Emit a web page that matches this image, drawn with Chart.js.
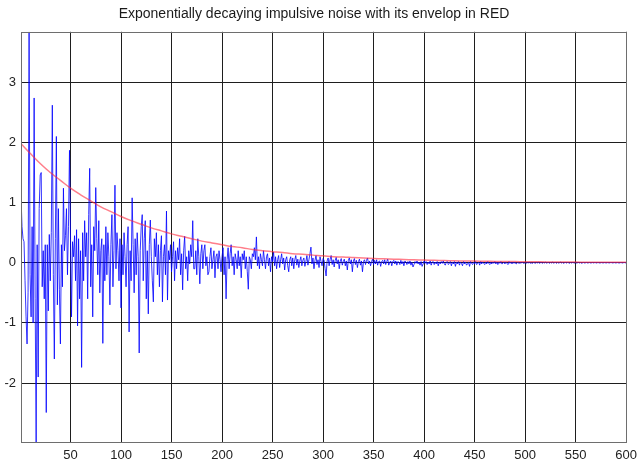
<!DOCTYPE html>
<html>
<head>
<meta charset="utf-8">
<script src="https://cdn.jsdelivr.net/npm/chart.js@4.4.1/dist/chart.umd.min.js"></script>
<style>
  html, body { margin: 0; padding: 0; background: #fff; }
  #wrap { width: 643px; height: 463px; }
</style>
</head>
<body>
<div id="wrap"><canvas id="noiseChart" width="643" height="463"></canvas></div>
<script>
// Impulsive noise, one sample per x (x = 1 .. 600)
const noise = [
  1.12, 0.6, 0.4, 0.35, -0.3, -0.9, -1.35, -0.5, 3.84, -0.2,
  -0.9, 0.6, -1.0, 2.74, -0.6, -2.98, 0.3, -1.9, 0.9, 1.46,
  1.5, -0.4, 0.2, -0.6, 0.3, -2.49, 0.3, -0.8, 0.47, -0.3,
  0.5, 2.62, -0.2, -1.6, 0.4, 2.1, -0.7, 0.9, -0.45, -1.35,
  0.3, -0.4, 1.24, 0.2, 0.45, 0.9, -0.2, 0.6, 1.87, 0.4,
  -0.9, 0.35, 0.1, 0.45, -0.3, 0.55, -1.05, 0.4, -0.6, 0.2,
  -1.74, 0.5, -0.3, 0.7, 0.1, 0.5, -0.6, 0.8, 1.57, -0.4,
  0.3, -0.9, 0.6, 0.2, 1.25, 0.4, -0.2, 0.7, -0.5, 0.2,
  0.4, -1.34, 0.3, -0.3, 0.6, -0.2, 0.5, 0.1, -0.7, 0.3,
  0.8, -0.4, 0.2, 1.29, -0.1, 0.5, 0.2, -0.3, 0.4, -0.75,
  0.3, -0.2, 0.5, 0.1, -0.4, 0.3, 0.6, -1.15, 0.2, -0.3,
  1.08, 0.3, -0.5, 0.4, -0.2, 0.5, 0.1, -1.5, 0.2, 0.6,
  0.8, -0.3, 0.4, 0.7, -0.6, 0.2, -0.85, 0.3, 0.71, 0.1,
  -0.3, -0.65, 0.4, 0.1, 0.5, -0.2, 0.3, -0.4, 0.2, 0.45,
  -0.65, 0.1, 0.3, -0.2, 0.86, -0.62, 0.2, 0.05, 0.3, -0.15,
  0.1, 0.35, -0.3, 0.2, -0.1, 0.25, 0.05, 0.4, -0.2, 0.15,
  -0.45, 0.2, 0.44, -0.1, 0.1, -0.3, 0.2, -0.02, 0.3, 0.1,
  0.7, -0.1, -0.1, 0.2, -0.2, 0.4, 0.1, -0.35, 0.15, 0.3,
  -0.1, 0.2, 0.3, -0.05, 0.1, -0.2, -0.15, 0.1, 0.25, -0.1,
  0.05, 0.2, -0.25, 0.1, 0.15, -0.1, 0.2, 0.05, -0.15, 0.1,
  0.25, -0.2, 0.1, -0.6, 0.05, 0.25, -0.1, 0.15, 0.3, -0.05,
  0.1, -0.2, 0.15, 0.05, -0.1, 0.2, -0.05, 0.1, -0.25, 0.15,
  0.05, 0.2, -0.1, 0.1, -0.15, -0.44, 0.1, 0.05, -0.1, 0.15,
  0.1, 0.25, 0.05, 0.43, -0.05, 0.1, -0.1, 0.15, 0.05, -0.05,
  0.2, 0.05, -0.1, 0.1, 0.15, -0.05, 0.08, -0.15, 0.1, 0.02,
  0.18, -0.05, 0.1, -0.1, 0.05, 0.12, -0.08, 0.05, 0.15, -0.02,
  0.08, -0.12, 0.05, 0.1, -0.05, -0.15, 0.05, 0.1, -0.05, 0.08,
  -0.1, 0.05, 0.12, -0.04, 0.06, -0.08, 0.03, 0.1, -0.05, 0.04,
  0.08, -0.06, 0.02, 0.12, -0.04, 0.05, 0.15, 0.26, -0.02, 0.08,
  -0.1, 0.04, 0.12, -0.03, 0.05, -0.08, 0.1, 0.02, -0.05, 0.07,
  0.04, -0.1, -0.22, 0.03, 0.08, -0.05, 0.06, 0.12, -0.03, 0.05,
  -0.07, 0.04, 0.09, -0.02, 0.05, -0.1, 0.03, 0.07, -0.04, 0.02,
  0.06, -0.05, 0.03, -0.12, 0.04, 0.08, -0.02, 0.05, -0.15, 0.03,
  0.07, -0.03, 0.04, -0.08, 0.02, 0.06, -0.04, 0.03, -0.15, 0.02,
  0.05, -0.03, 0.04, 0.08, -0.02, 0.03, -0.05, 0.02, 0.06, -0.03,
  0.04, -0.02, 0.05, -0.04, 0.02, 0.03, -0.06, 0.02, 0.04, -0.02,
  0.05, -0.03, 0.02, 0.06, -0.04, 0.01, 0.03, -0.05, 0.02, 0.04,
  -0.02, 0.03, -0.04, 0.02, 0.01, -0.03, 0.04, -0.02, 0.02, -0.05,
  0.03, 0.01, -0.03, 0.02, -0.02, 0.03, -0.04, 0.01, -0.07, -0.03,
  0.02, -0.01, 0.03, -0.02, 0.01, -0.04, 0.02, -0.06, -0.02, 0.03,
  -0.01, 0.02, -0.03, 0.01, -0.02, 0.03, -0.04, 0.01, 0.02, -0.03,
  0.01, -0.02, 0.02, -0.05, 0.01, -0.02, 0.02, -0.01, 0.03, -0.02,
  -0.04, 0.01, 0.02, -0.03, -0.01, 0.02, -0.05, 0.01, -0.02, 0.02,
  -0.06, 0.01, -0.02, 0.02, -0.04, 0.01, -0.01, -0.05, 0.02, -0.02,
  0.01, -0.04, -0.02, 0.01, -0.06, 0.02, -0.01, -0.03, 0.01, -0.02,
  0.02, -0.03, -0.01, 0.01, -0.04, 0.02, -0.02, 0.01, -0.01, -0.03,
  0.01, -0.02, 0.02, -0.01, -0.03, 0.01, -0.02, 0.01, -0.01, 0.02,
  -0.02, 0.01, -0.03, 0.01, -0.01, 0.02, -0.02, -0.01, 0.01, -0.02,
  0.01, -0.01, -0.03, 0.02, -0.01, 0.01, -0.02, 0.01, -0.01, 0.01,
  -0.02, -0.01, 0.01, -0.015, 0.005, -0.01, 0.01, -0.005, -0.01, 0.005,
  -0.01, 0.005, -0.005, 0.01, -0.01, 0.005, -0.015, 0.005, 0, -0.01,
  0.005, -0.005, 0.01, -0.01, 0, 0.005, -0.01, 0.005, -0.005, 0.01,
  -0.005, 0, 0.005, -0.01, 0.005, -0.005, 0.01, -0.005, 0, 0.005,
  -0.01, 0.005, -0.005, 0, 0.01, -0.005, 0.005, -0.01, 0, 0.005,
  -0.005, 0.005, 0, -0.01, 0.005, -0.005, 0.005, 0, -0.005, 0.005,
  -0.005, 0, 0.005, -0.005, 0.005, -0.01, 0, 0.005, -0.005, 0,
  0.005, -0.005, 0, 0.005, -0.005, 0, 0.005, -0.005, 0.005, 0,
  -0.005, 0.005, 0, -0.005, 0, 0.005, -0.005, 0, 0.005, -0.005,
  0, 0.005, -0.005, 0, 0.005, 0, -0.005, 0.005, 0, -0.005,
  0.005, 0, -0.005, 0, 0.005, -0.005, 0, 0.005, 0, -0.005
];

// Red envelope, read at every 10 samples
const envX = [1, 10, 20, 30, 40, 50, 60, 70, 80, 90, 100, 110, 120, 130, 140, 150,
  160, 170, 180, 190, 200, 210, 220, 230, 240, 250, 260, 270, 280, 290, 300,
  310, 320, 330, 340, 350, 360, 370, 380, 390, 400, 410, 420, 430, 440, 450,
  460, 470, 480, 490, 500, 510, 520, 530, 540, 550, 560, 570, 580, 590, 600];
const envY = [1.98, 1.82, 1.65, 1.50, 1.37, 1.24, 1.13, 1.03, 0.93, 0.85, 0.77, 0.70,
  0.64, 0.58, 0.53, 0.48, 0.44, 0.40, 0.36, 0.33, 0.30, 0.27, 0.25, 0.22, 0.20,
  0.185, 0.17, 0.15, 0.14, 0.127, 0.115, 0.10, 0.095, 0.086, 0.078, 0.071, 0.065,
  0.059, 0.054, 0.049, 0.044, 0.040, 0.037, 0.033, 0.030, 0.028, 0.025, 0.023,
  0.021, 0.019, 0.017, 0.016, 0.014, 0.013, 0.012, 0.011, 0.010, 0.009, 0.008,
  0.007, 0.007];

const xTicks = [50, 100, 150, 200, 250, 300, 350, 400, 450, 500, 550, 600];
const yTicks = [-2, -1, 0, 1, 2, 3];

const titleText = 'Exponentially decaying impulsive noise with its envelop in RED';

// draws the closed box round the plot area, like matlab's axes
const frameBox = {
    id: 'frameBox',
    afterDraw(chart) {
        const { ctx, chartArea: a } = chart;
        ctx.save();
        ctx.strokeStyle = '#6e6e6e';
        ctx.lineWidth = 1;
        ctx.strokeRect(Math.round(a.left) + 0.5, Math.round(a.top) + 0.5,
            Math.round(a.right - a.left), Math.round(a.bottom - a.top));
        ctx.restore();
    }
};

const font = { family: "'Liberation Sans', Arial, sans-serif", size: 13 };

new Chart(document.getElementById('noiseChart').getContext('2d'), {
    type: 'line',
    data: {
        datasets: [
            {
                label: 'envelope',
                data: envX.map((x, i) => ({ x: x, y: envY[i] })),
                borderColor: 'rgba(255, 40, 60, 0.6)',
                borderWidth: 1.5,
                pointRadius: 0,
                tension: 0.4,
                order: 0
            },
            {
                label: 'noise',
                data: noise.map((v, i) => ({ x: i + 1, y: v })),
                borderColor: 'rgba(0, 0, 255, 0.8)',
                borderWidth: 1,
                pointRadius: 0,
                tension: 0,
                order: 1
            }
        ]
    },
    options: {
        responsive: false,
        animation: false,
        layout: { padding: { left: 0, right: 15, top: 0, bottom: 0 } },
        plugins: {
            legend: { display: false },
            tooltip: { enabled: false },
            title: {
                display: true,
                text: titleText,
                color: '#1a1a1a',
                font: { family: font.family, size: 14, weight: 'normal' },
                padding: { top: 6, bottom: 9 }
            }
        },
        scales: {
            x: {
                type: 'linear',
                min: 1,
                max: 600,
                afterBuildTicks: (s) => { s.ticks = xTicks.map(v => ({ value: v })); },
                afterFit: (s) => { s.height = 21; },
                grid: { color: '#1e1e1e', drawTicks: false },
                border: { display: false },
                ticks: { color: '#222', font: font, padding: 6, maxRotation: 0 }
            },
            y: {
                type: 'linear',
                min: Math.min(...noise),
                max: Math.max(...noise),
                afterBuildTicks: (s) => { s.ticks = yTicks.map(v => ({ value: v })); },
                afterFit: (s) => { s.width = 21; },
                grid: { color: '#1e1e1e', drawTicks: false },
                border: { display: false },
                ticks: { color: '#222', font: font, padding: 5 }
            }
        }
    },
    plugins: [frameBox]
});
</script>
</body>
</html>
